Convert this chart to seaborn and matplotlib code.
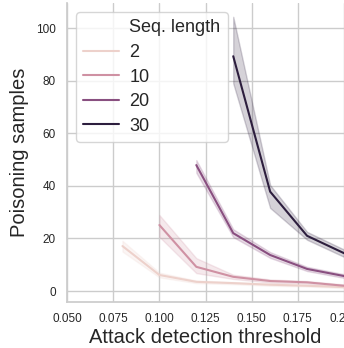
import numpy as np
import pandas as pd
import seaborn as sns
import matplotlib.pyplot as plt
from matplotlib.lines import Line2D

# values: (threshold, mean, lower, upper) per sequence length
seq_lengths = [2, 10, 20, 30]
thresholds = {
    2: [0.08, 0.10, 0.12, 0.14, 0.16, 0.18, 0.20],
    10: [0.10, 0.12, 0.14, 0.16, 0.18, 0.20],
    20: [0.12, 0.14, 0.16, 0.18, 0.20],
    30: [0.14, 0.16, 0.18, 0.20],
}
mean_samples = {
    2: [17.1, 6.1, 3.5, 3.0, 2.4, 2.0, 1.5],
    10: [25.1, 9.2, 5.4, 3.8, 3.3, 2.0],
    20: [47.9, 22.0, 13.7, 8.4, 5.7],
    30: [89.3, 37.8, 21.0, 14.4],
}
lower_samples = {
    2: [15.0, 5.2, 3.0, 2.6, 2.0, 1.7, 1.1],
    10: [20.6, 6.8, 4.6, 3.2, 2.8, 1.5],
    20: [45.0, 20.5, 12.6, 7.6, 5.0],
    30: [79.0, 31.6, 19.5, 13.0],
}
upper_samples = {
    2: [19.1, 7.0, 4.0, 3.4, 2.8, 2.3, 1.9],
    10: [28.9, 12.5, 6.2, 4.4, 3.8, 2.5],
    20: [49.8, 23.5, 14.8, 9.2, 6.4],
    30: [104.3, 40.3, 22.5, 15.8],
}

rows = []
for s in seq_lengths:
    for i, t in enumerate(thresholds[s]):
        for v in (lower_samples[s][i], mean_samples[s][i], upper_samples[s][i]):
            rows.append({"threshold": t, "samples": v, "Seq. length": s})
df = pd.DataFrame(rows)

sns.set_theme(style="whitegrid")
plt.rcParams['font.family'] = ['Liberation Sans', 'DejaVu Sans']
fig = plt.figure(figsize=(3.44, 3.48), dpi=100)
ax = fig.add_axes([0.195, 0.132, 0.805, 0.859])
sns.lineplot(data=df, x="threshold", y="samples", hue="Seq. length",
             estimator="median", errorbar=("pi", 100), ax=ax)
sns.despine(ax=ax)
ax.set_xlim(0.05, 0.2)
ax.set_ylim(-4.2, 109.5)
ax.set_xticks([0.05, 0.075, 0.1, 0.125, 0.15, 0.175, 0.2])
ax.set_xticklabels(["0.050", "0.075", "0.100", "0.125", "0.150", "0.175", "0.200"])
ax.tick_params(labelsize=8.5, pad=2)
ax.set_xlabel("Attack detection threshold", fontsize=14.5, labelpad=2)
ax.set_ylabel("Poisoning samples", fontsize=14.5, labelpad=5)

# old-style seaborn legend: the hue name sits as a first entry without a handle
handles, labels = ax.get_legend_handles_labels()
blank = Line2D([], [], linestyle="none")
leg = ax.legend([blank] + handles, ["Seq. length"] + labels, loc="upper left",
                fontsize=13, borderaxespad=0.5, labelspacing=0.42,
                handletextpad=0.55)
for line in leg.get_lines():
    line.set_linewidth(1.5)

fig.savefig("out.png", dpi=100)
